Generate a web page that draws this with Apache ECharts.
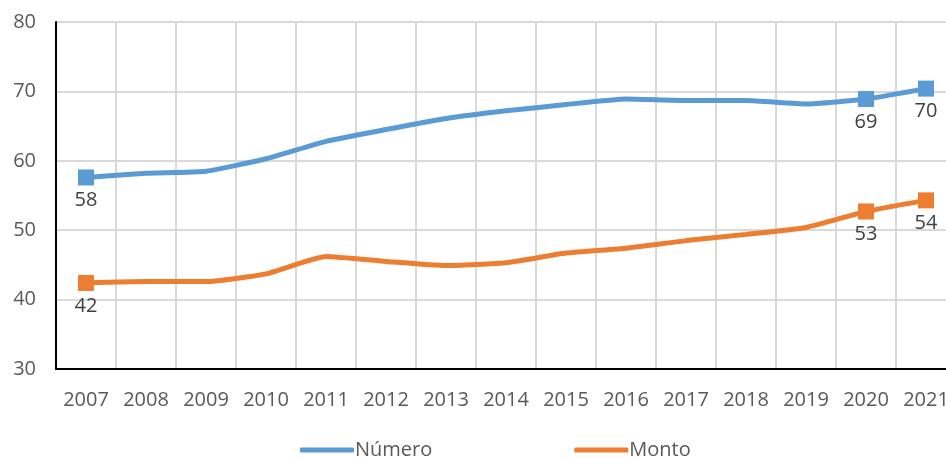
<!DOCTYPE html>
<html>
<head>
<meta charset="utf-8">
<script src="https://cdn.jsdelivr.net/npm/echarts@6/dist/echarts.min.js"></script>
<style>
  html, body { margin: 0; padding: 0; background: #fff; overflow: hidden; }
  /* el gráfico original queda recortado a la derecha */
  #chart { width: 964px; height: 458px; }
</style>
</head>
<body>
<div id="chart"></div>
<script>
var years = ["2007", "2008", "2009", "2010", "2011", "2012", "2013", "2014", "2015", "2016", "2017", "2018", "2019", "2020", "2021"];
var numero = [57.6, 58.2, 58.5, 60.3, 62.8, 64.5, 66.1, 67.2, 68.1, 68.9, 68.7, 68.7, 68.2, 68.9, 70.4];
var monto = [42.4, 42.6, 42.6, 43.7, 46.2, 45.5, 44.9, 45.3, 46.7, 47.4, 48.5, 49.4, 50.4, 52.7, 54.3];
// solo estos puntos llevan marcador y etiqueta
var marcados = [0, 13, 14];

var fuente = "Open Sans";

function armarSerie(nombre, valores, color) {
    var datos = valores.map(function (v, i) {
        if (marcados.indexOf(i) >= 0) {
            return {
                value: v,
                symbol: "rect",
                symbolSize: 16,
                label: { show: true }
            };
        }
        return { value: v, symbol: "none" };
    });
    return {
        name: nombre,
        type: "line",
        data: datos,
        smooth: 0.15,
        showAllSymbol: true,
        lineStyle: { width: 5, color: color },
        itemStyle: { color: color },
        label: {
            show: false,
            position: "bottom",
            distance: 5,
            color: "#404040",
            fontFamily: fuente,
            fontSize: 20,
            formatter: function (p) { return Math.round(p.value); }
        },
        emphasis: { disabled: true }
    };
}

var myChart = echarts.init(document.getElementById("chart"));
myChart.setOption({
    animation: false,
    grid: { left: 56, right: 8, top: 22, bottom: 89 },
    legend: {
        bottom: -7,
        left: 295,
        itemWidth: 54,
        itemHeight: 5,
        itemGap: 142,
        icon: "roundRect",
        textStyle: { color: "#595959", fontFamily: fuente, fontSize: 20, padding: [0, 0, 0, -4] },
        data: ["Número", "Monto"]
    },
    xAxis: {
        type: "category",
        data: years,
        boundaryGap: true,
        axisLine: { lineStyle: { color: "#000", width: 2 } },
        axisTick: { show: false },
        axisLabel: { interval: 0, color: "#595959", fontFamily: fuente, fontSize: 20, margin: 21 },
        splitLine: { show: true, interval: 0, lineStyle: { color: "#d9d9d9", width: 2 } }
    },
    yAxis: {
        type: "value",
        min: 30,
        max: 80,
        interval: 10,
        axisLine: { show: true, lineStyle: { color: "#000", width: 2 } },
        axisTick: { show: false },
        axisLabel: { color: "#595959", fontFamily: fuente, fontSize: 20, margin: 20 },
        splitLine: { lineStyle: { color: "#d9d9d9", width: 2 } }
    },
    series: [
        armarSerie("Número", numero, "#5b9bd5"),
        armarSerie("Monto", monto, "#ed7d31")
    ]
});
</script>
</body>
</html>
